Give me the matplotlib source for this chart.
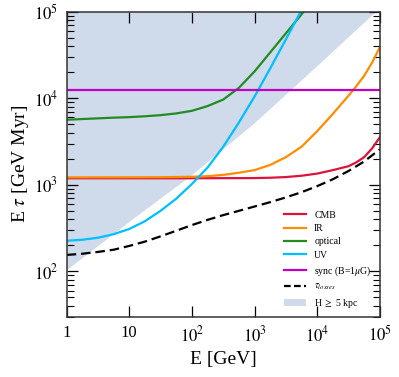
import numpy as np
import matplotlib
matplotlib.use('Agg')
import matplotlib.pyplot as plt
from matplotlib.patches import Patch
from matplotlib.lines import Line2D

plt.rcParams['font.family'] = ['Liberation Serif', 'DejaVu Serif']
plt.rcParams['mathtext.fontset'] = 'stix'

# Energy grid (GeV), quarter-decade steps, and E*tau values (GeV Myr)
E_q = [1, 1.78, 3.16, 5.62, 10, 17.8, 31.6, 56.2, 100, 178, 316, 562,
       1e3, 1778, 3162, 5623, 1e4, 1.78e4, 3.16e4, 5.62e4, 1e5]

cmb = [1191, 1191, 1191, 1191, 1191, 1191, 1191, 1191, 1192, 1193, 1194, 1195,
       1197, 1208, 1230, 1274, 1349, 1479, 1641, 2089, 3548]
# extra points near the steep end
E_cmb_end = [4.22e4, 7.5e4]
cmb_end = [1820, 2630]

ir = [1219, 1220, 1221, 1222, 1223, 1224, 1225, 1230, 1239, 1259, 1303, 1380,
      1479, 1698, 2089, 2754, 4169, 6607, 10715, 18197, 38905]
E_ir_end = [4.22e4, 7.5e4]
ir_end = [13804, 25704]

E_opt = [1, 1.78, 3.16, 5.62, 10, 17.8, 31.6, 56.2, 100, 178, 316, 562,
         1e3, 1778, 3162, 5623, 7080]
opt = [5649, 5754, 5861, 5970, 6053, 6194, 6383, 6683, 7161, 8128, 9661, 13183,
       20417, 33884, 56234, 93325, 114815]

E_uv = [1, 1.78, 3.16, 5.62, 10, 17.8, 31.6, 56.2, 100, 178, 316, 562,
        1e3, 1778, 3162, 5623]
uv = [226, 232, 245, 269, 309, 380, 501, 692, 1023, 1585, 2754, 5248,
      10471, 22131, 47863, 104713]

E_sync = [1, 1e5]
sync = [12400, 12400]

loss = [155, 160, 168, 178, 197, 221, 254, 295, 343, 394, 447, 501,
        562, 631, 716, 822, 966, 1161, 1445, 1862, 2570]

# lower edge of the H >= 5 kpc region
E_h = [1, 10, 100, 1e3, 1e4, 1e5]
h_low = [105, 380, 1320, 5250, 24000, 112000]

xticks = [1, 10, 100, 1e3, 1e4, 1e5]
xticklabels = ['1', '10', '$10^2$', '$10^3$', '$10^4$', '$10^5$']
yticks = [1e2, 1e3, 1e4, 1e5]
yticklabels = ['$10^2$', '$10^3$', '$10^4$', '$10^5$']

shade = '#cfdaea'
c_cmb = '#dc143c'
c_ir = '#ff8c00'
c_opt = '#228b22'
c_uv = '#00bfff'
c_sync = '#c000c0'


def merge(x, y, xe, ye):
    # put the extra points in order along x
    pts = sorted(zip(list(x) + list(xe), list(y) + list(ye)))
    return [p[0] for p in pts], [p[1] for p in pts]


fig = plt.figure(figsize=(3.99, 3.77), dpi=100)
ax = fig.add_axes([0.167, 0.16, 0.785, 0.809])

ax.fill_between(E_h, h_low, [1e6] * len(E_h), color=shade, lw=0)

ax.plot(*merge(E_q, cmb, E_cmb_end, cmb_end), color=c_cmb, lw=1.6)
ax.plot(*merge(E_q, ir, E_ir_end, ir_end), color=c_ir, lw=1.6)
ax.plot(E_opt, opt, color=c_opt, lw=1.6)
ax.plot(E_uv, uv, color=c_uv, lw=1.6)
ax.plot(E_sync, sync, color=c_sync, lw=1.6)
ax.plot(E_q, loss, color='black', lw=1.6, linestyle=(0, (4.3, 2.2)))

ax.set_xscale('log')
ax.set_yscale('log')
ax.set_xlim(1, 1e5)
ax.set_ylim(30, 1e5)

ax.set_xticks(xticks)
ax.set_xticklabels(xticklabels)
ax.xaxis.set_minor_locator(matplotlib.ticker.NullLocator())
ax.set_yticks(yticks)
ax.set_yticklabels(yticklabels)
ax.yaxis.set_minor_locator(matplotlib.ticker.LogLocator(base=10, subs=np.arange(2, 10)))
ax.yaxis.set_minor_formatter(matplotlib.ticker.NullFormatter())

ax.tick_params(which='both', direction='in', top=True, right=True,
               labelsize=12, pad=6)
ax.tick_params(which='major', length=8, width=0.9)
ax.tick_params(which='minor', length=5, width=0.8)
for s in ax.spines.values():
    s.set_linewidth(1.1)
    s.set_color('#333333')

ax.set_xlabel('E [GeV]', fontsize=14, labelpad=4)
ax.set_ylabel(r'E $\tau$ [GeV Myr]', fontsize=14, labelpad=2)

handles = [Line2D([], [], color=c_cmb, lw=1.6),
           Line2D([], [], color=c_ir, lw=1.6),
           Line2D([], [], color=c_opt, lw=1.6),
           Line2D([], [], color=c_uv, lw=1.6),
           Line2D([], [], color=c_sync, lw=1.6),
           Line2D([], [], color='black', lw=1.6, linestyle=(0, (3, 1.5))),
           Patch(facecolor=shade, edgecolor='none')]
labels = ['CMB', 'IR', 'optical', 'UV', r'sync (B=1$\mu$G)',
          r'$\tau_{losses}$', r'H $\geq$ 5 kpc']
ax.legend(handles, labels, loc='lower right', frameon=False, fontsize=7,
          handlelength=2.3, labelspacing=0.45, borderaxespad=0.3,
          bbox_to_anchor=(0.995, 0.0))

fig.savefig('out.png', dpi=100)
